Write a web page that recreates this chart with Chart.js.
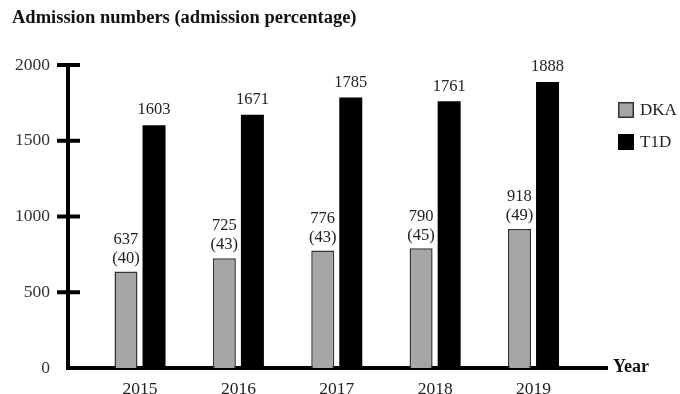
<!DOCTYPE html>
<html>
<head>
<meta charset="utf-8">
<script src="https://cdn.jsdelivr.net/npm/chart.js@4/dist/chart.umd.min.js"></script>
<style>
  html, body { margin: 0; padding: 0; background: #fff; }
  #wrap { width: 680px; height: 394px; position: relative; }
</style>
</head>
<body>
<div id="wrap"><canvas id="chart"></canvas></div>
<script>
// Yearly admissions: DKA counts with their percentage of T1D admissions
const YEARS = ['2015', '2016', '2017', '2018', '2019'];
const DKA_ADMISSIONS = [637, 725, 776, 790, 918];
const DKA_PERCENT = [40, 43, 43, 45, 49];
const T1D_ADMISSIONS = [1603, 1671, 1785, 1761, 1888];
const Y_TICKS = [0, 500, 1000, 1500, 2000];

const SERIF = '"Liberation Serif", "Times New Roman", serif';
const DKA_FILL = '#a6a6a6';
const DKA_EDGE = '#333333';
const T1D_FILL = '#000000';

// axis tick marks, bar value labels, axis name and legend
const annotations = {
  id: 'annotations',
  afterDraw(chart) {
    const { ctx, chartArea, scales } = chart;
    const y = scales.y;
    ctx.save();

    // tick marks crossing the y axis
    ctx.strokeStyle = '#000';
    ctx.lineWidth = 4;
    Y_TICKS.forEach(v => {
      if (v === 0) return;
      const py = y.getPixelForValue(v);
      ctx.beginPath();
      ctx.moveTo(chartArea.left - 11, py);
      ctx.lineTo(chartArea.left + 12, py);
      ctx.stroke();
    });
    // square off the axis corner
    ctx.fillStyle = '#000';
    ctx.fillRect(chartArea.left - 2, chartArea.bottom - 2, 4, 4);

    // value labels
    ctx.fillStyle = '#222';
    ctx.font = '16.5px ' + SERIF;
    ctx.textAlign = 'center';
    ctx.textBaseline = 'middle';
    chart.getDatasetMeta(0).data.forEach((bar, i) => {
      ctx.fillText(String(DKA_ADMISSIONS[i]), bar.x, bar.y - 32);
      ctx.fillText('(' + DKA_PERCENT[i] + ')', bar.x, bar.y - 13);
    });
    chart.getDatasetMeta(1).data.forEach((bar, i) => {
      ctx.fillText(String(T1D_ADMISSIONS[i]), bar.x, bar.y - 15);
    });

    // x axis name
    ctx.fillStyle = '#111';
    ctx.font = 'bold 18px ' + SERIF;
    ctx.textAlign = 'left';
    ctx.fillText('Year', chartArea.right + 6, chartArea.bottom - 1);

    // legend
    const lx = chartArea.right + 11;
    chart.data.datasets.forEach((ds, i) => {
      const top = 102 + i * 32;
      ctx.fillStyle = ds.backgroundColor;
      ctx.fillRect(lx, top, 16, 16);
      if (ds.borderWidth) {
        ctx.strokeStyle = ds.borderColor;
        ctx.lineWidth = 1.5;
        ctx.strokeRect(lx + 0.75, top + 0.75, 14.5, 14.5);
      }
      ctx.fillStyle = '#222';
      ctx.font = '17px ' + SERIF;
      ctx.fillText(ds.label, lx + 22, top + 8.5);
    });

    ctx.restore();
  }
};

new Chart(document.getElementById('chart'), {
  type: 'bar',
  data: {
    datasets: [
      {
        label: 'DKA',
        data: DKA_ADMISSIONS.map((v, i) => ({ x: i, y: v })),
        backgroundColor: DKA_FILL,
        borderColor: DKA_EDGE,
        borderWidth: 1.5,
        categoryPercentage: 0.57,
        barPercentage: 0.82,
      },
      {
        label: 'T1D',
        data: T1D_ADMISSIONS.map((v, i) => ({ x: i, y: v })),
        backgroundColor: T1D_FILL,
        borderWidth: 0,
        categoryPercentage: 0.57,
        barPercentage: 0.82,
      },
    ],
  },
  options: {
    responsive: true,
    maintainAspectRatio: false,
    animation: false,
    layout: { padding: { top: 0, left: 12, right: 73, bottom: 0 } },
    plugins: {
      legend: { display: false },
      tooltip: { enabled: false },
      title: {
        display: true,
        text: 'Admission numbers (admission percentage)',
        align: 'start',
        color: '#111',
        font: { family: SERIF, size: 18.5, weight: 'bold', lineHeight: 1.2 },
        padding: { top: 7, bottom: 35.8 },
      },
    },
    scales: {
      x: {
        type: 'linear',
        min: -0.732,
        max: 4.747,
        offset: false,
        grid: { display: false, drawTicks: false, offset: false },
        border: { display: true, color: '#000', width: 4 },
        ticks: {
          color: '#222',
          font: { family: SERIF, size: 17.5 },
          padding: 11,
          maxRotation: 0,
          autoSkip: false,
          callback: v => YEARS[v] ?? '',
        },
        afterBuildTicks: s => { s.ticks = YEARS.map((_, i) => ({ value: i })); },
        afterFit: s => { s.height = 26; },
      },
      y: {
        min: 0,
        max: 2000,
        grid: { display: false, drawTicks: false },
        border: { display: true, color: '#000', width: 4 },
        ticks: {
          color: '#333',
          font: { family: SERIF, size: 17.5 },
          padding: 18,
          callback: v => String(v),
        },
        afterBuildTicks: s => { s.ticks = Y_TICKS.map(v => ({ value: v })); },
        afterFit: s => {
          s.width = 56;
          s.paddingTop = 0;
          s.paddingBottom = 0;
        },
      },
    },
  },
  plugins: [annotations],
});
</script>
</body>
</html>
